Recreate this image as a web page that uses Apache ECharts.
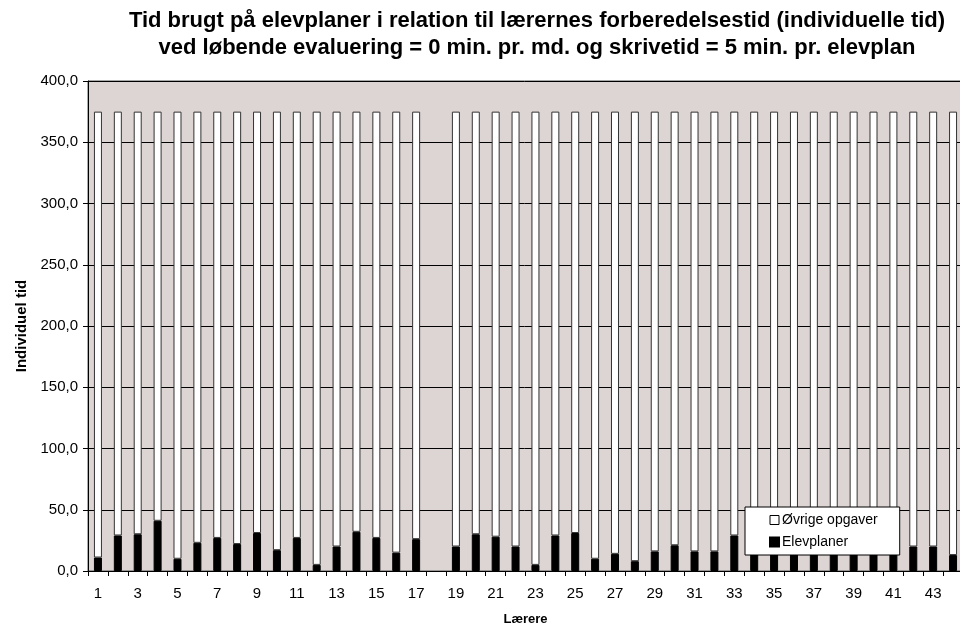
<!DOCTYPE html>
<html>
<head>
<meta charset="utf-8">
<script src="https://cdn.jsdelivr.net/npm/echarts@6/dist/echarts.min.js"></script>
<style>
html, body { margin: 0; padding: 0; background: #fff; }
#main { width: 960px; height: 626px; }
</style>
</head>
<body>
<div id="main"></div>
<script>
// lærere 1..44 (nr. 18 mangler)
var laerere = ['1','2','3','4','5','6','7','8','9','10','11','12','13','14','15','16','17','18','19','20','21','22',
    '23','24','25','26','27','28','29','30','31','32','33','34','35','36','37','38','39','40','41','42','43','44'];

var elevplaner = [11, 29, 30, 41, 10, 23, 27, 22, 31, 17, 27, 5, 20, 32, 27, 15, 26, null, 20, 30, 28, 20,
    5, 29, 31, 10, 14, 8, 16, 21, 16, 16, 29, 16, 20, 15, 22, 18, 24, 20, 17, 20, 20, 13];

var ovrige = [364, 346, 345, 334, 365, 352, 348, 353, 344, 358, 348, 370, 355, 343, 348, 360, 349, null, 355, 345, 347, 355,
    370, 346, 344, 365, 361, 367, 359, 354, 359, 359, 346, 359, 355, 360, 353, 357, 351, 355, 358, 355, 355, 362];

var yTicks = [0, 50, 100, 150, 200, 250, 300, 350, 400];

var myChart = echarts.init(document.getElementById('main'));

var fnt = 'Liberation Sans, Arial, sans-serif';

var option = {
    animation: false,
    backgroundColor: '#fff',
    title: {
        text: 'Tid brugt på elevplaner i relation til lærernes forberedelsestid (individuelle tid)\nved løbende evaluering = 0 min. pr. md. og skrivetid = 5 min. pr. elevplan',
        left: 532,
        top: 2,
        textAlign: 'center',
        textStyle: {
            fontFamily: fnt,
            fontWeight: 'bold',
            fontSize: 22,
            lineHeight: 27,
            color: '#000'
        }
    },
    legend: {
        orient: 'vertical',
        left: 745,
        top: 507,
        padding: [6, 22, 6, 24],
        itemGap: 8,
        itemWidth: 9,
        itemHeight: 9,
        backgroundColor: '#fff',
        borderColor: '#000',
        borderWidth: 1,
        borderRadius: 0,
        z: 10,
        textStyle: { fontFamily: fnt, fontSize: 14, color: '#000', padding: [0, 0, 0, -2] },
        data: [
            { name: 'Øvrige opgaver', icon: 'rect', itemStyle: { color: '#fff', borderColor: '#000', borderWidth: 1 } },
            { name: 'Elevplaner', icon: 'rect', itemStyle: { color: '#000' } }
        ]
    },
    grid: {
        left: 88,
        top: 81,
        width: 875,
        height: 490,
        containLabel: false,
        outerBoundsMode: 'none',
        show: true,
        backgroundColor: '#DCD5D3',
        borderColor: '#555',
        borderWidth: 1
    },
    xAxis: {
        type: 'category',
        data: laerere,
        name: 'Lærere',
        nameLocation: 'middle',
        nameGap: 42,
        nameTextStyle: { fontFamily: fnt, fontWeight: 'bold', fontSize: 13, color: '#000' },
        axisLine: { lineStyle: { color: '#000', width: 1 } },
        axisTick: { show: true, interval: 0, length: 5, lineStyle: { color: '#000' } },
        axisLabel: { interval: 1, margin: 15, fontFamily: fnt, fontSize: 15, color: '#000' }
    },
    yAxis: {
        type: 'value',
        min: yTicks[0],
        max: yTicks[yTicks.length - 1],
        interval: 50,
        name: 'Individuel tid',
        nameLocation: 'middle',
        nameGap: 47,
        nameTextStyle: { fontFamily: fnt, fontWeight: 'bold', fontSize: 15, color: '#000' },
        axisLine: { show: true, lineStyle: { color: '#000', width: 1 } },
        axisTick: { show: true, length: 5, lineStyle: { color: '#000' } },
        axisLabel: {
            margin: 10,
            fontFamily: fnt,
            fontSize: 15,
            color: '#000',
            formatter: function (v) { return v.toFixed(1).replace('.', ','); }
        },
        splitLine: { show: true, lineStyle: { color: '#000', width: 1 } }
    },
    series: [
        {
            name: 'Elevplaner',
            type: 'bar',
            stack: 'tid',
            barWidth: 8,
            data: elevplaner,
            itemStyle: { color: '#000', borderColor: '#000', borderWidth: 1 }
        },
        {
            name: 'Øvrige opgaver',
            type: 'bar',
            stack: 'tid',
            barWidth: 8,
            data: ovrige,
            itemStyle: { color: '#fff', borderColor: '#333', borderWidth: 1 }
        }
    ]
};

myChart.setOption(option);
</script>
</body>
</html>
